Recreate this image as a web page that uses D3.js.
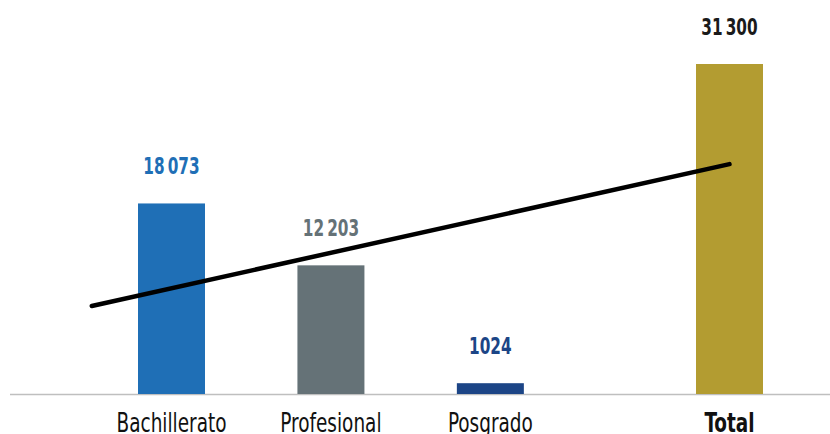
<!DOCTYPE html>
<html>
<head>
<meta charset="utf-8">
<script src="https://cdn.jsdelivr.net/npm/d3@7"></script>
<style>
  body { margin: 0; background: #fff; }
  text { font-family: "DejaVu Sans Condensed", "DejaVu Sans", sans-serif; }
</style>
</head>
<body>
<svg id="chart" width="830" height="434"></svg>
<script>
'use strict'

const categories = ['Bachillerato', 'Profesional', 'Posgrado', 'Total']
const values = [18073, 12203, 1024, 31300]
const colors = ['#1f6fb6', '#657277', '#1c4586', '#b39c31']
const labelColors = ['#1f6fb6', '#657277', '#1c4586', '#1a1a1a']
// trend line (start / end)
const trendSlots = [-0.5, 3.5]
const trendValues = [8350, 21800]

const svg = d3.select('#chart')
const base = 394
const barW = 67

// Total sits half a slot further out
const slot = i => i < 3 ? i : i + 0.5

const x = d3.scaleLinear().domain([0, 3.5]).range([171.5, 729.5])
const y = d3.scaleLinear().domain([0, d3.max(values)]).range([base, 64])

const fmt = v => d3.format(',')(v).replace(',', v >= 10000 ? '\u2009' : '')

// axis line
svg.append('line')
  .attr('x1', 10).attr('x2', 830)
  .attr('y1', base + 0.5).attr('y2', base + 0.5)
  .attr('stroke', '#bfbfbf').attr('stroke-width', 1.5)

svg.selectAll('rect.bar')
  .data(values)
  .join('rect')
  .attr('class', 'bar')
  .attr('x', (d, i) => x(slot(i)) - barW / 2)
  .attr('width', barW)
  .attr('y', d => y(d))
  .attr('height', d => base - y(d))
  .attr('fill', (d, i) => colors[i])

svg.selectAll('text.val')
  .data(values)
  .join('text')
  .attr('class', 'val')
  .attr('transform', (d, i) => `translate(${x(slot(i))},${y(d) - 29}) scale(0.74,1)`)
  .attr('text-anchor', 'middle')
  .attr('font-size', 23)
  .attr('font-weight', 'bold')
  .attr('fill', (d, i) => labelColors[i])
  .text(d => fmt(d))

svg.selectAll('text.cat')
  .data(categories)
  .join('text')
  .attr('class', 'cat')
  .attr('transform', (d, i) => `translate(${x(slot(i))},432) scale(0.79,1)`)
  .attr('text-anchor', 'middle')
  .attr('font-size', 26)
  .attr('font-weight', (d, i) => i === 3 ? 'bold' : 'normal')
  .attr('fill', '#111')
  .text(d => d)

const line = d3.line()
  .x(d => x(d[0]))
  .y(d => y(d[1]))

svg.append('path')
  .datum(trendSlots.map((s, i) => [s, trendValues[i]]))
  .attr('d', line)
  .attr('fill', 'none')
  .attr('stroke', '#000')
  .attr('stroke-width', 4.5)
  .attr('stroke-linecap', 'round')
</script>
</body>
</html>
